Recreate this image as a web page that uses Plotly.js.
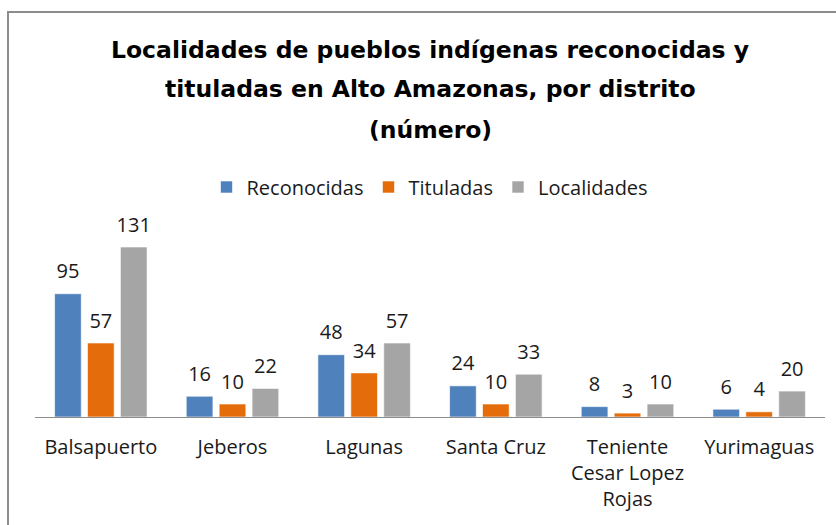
<!DOCTYPE html>
<html>
<head>
<meta charset="utf-8">
<script src="https://cdn.plot.ly/plotly-3.0.1.min.js"></script>
<style>html,body{margin:0;padding:0;background:#fff;}#chart{width:836px;height:525px;}</style>
</head>
<body>
<div id="chart"></div>
<script>
var distritos = ['Balsapuerto', 'Jeberos', 'Lagunas', 'Santa Cruz', 'Teniente<br>Cesar Lopez<br>Rojas', 'Yurimaguas'];
var reconocidas = [95, 16, 48, 24, 8, 6];
var tituladas = [57, 10, 34, 10, 3, 4];
var localidades = [131, 22, 57, 33, 10, 20];
var seriesNames = ['Reconocidas', 'Tituladas', 'Localidades'];
var seriesColors = ['#4F81BD', '#E46C0A', '#A5A5A5'];
var titleLines = ['Localidades de pueblos indígenas reconocidas y', 'tituladas en Alto Amazonas, por distrito', '(número)'];

var seriesValues = [reconocidas, tituladas, localidades];
var FONT = '"Open Sans", Lato, sans-serif';
var TFONT = '"DejaVu Sans", "Open Sans", sans-serif';
var traces = [];
seriesValues.forEach(function (vals, i) {
  traces.push({
    type: 'bar', x: distritos, y: vals, name: seriesNames[i],
    marker: {color: seriesColors[i], line: {color: 'rgba(255,255,255,0.6)', width: 1}},
    hoverinfo: 'skip'
  });
});
seriesValues.forEach(function (vals, i) {
  traces.push({
    type: 'scatter', mode: 'markers+text', x: distritos, y: vals,
    text: vals.map(String), textposition: 'top center',
    textfont: {family: FONT, size: 20, color: '#1a1a1a'},
    marker: {size: 15, opacity: 0, color: seriesColors[i]},
    showlegend: false, hoverinfo: 'skip', cliponaxis: false
  });
});

var plotTop = 215, plotBottom = 417, plotH = plotBottom - plotTop;
function py(pix) { return (plotBottom - pix) / plotH; }
var titleY = [50, 89, 130];
var annotations = titleLines.map(function (t, i) {
  return {text: '<b>' + t + '</b>', xref: 'paper', yref: 'paper', x: (430 - 35) / 790, y: py(titleY[i]),
    xanchor: 'center', yanchor: 'middle', showarrow: false,
    font: {family: TFONT, size: 23.5, color: '#000'}};
});

var layout = {
  width: 836, height: 525,
  margin: {l: 35, r: 11, t: plotTop, b: 525 - plotBottom},
  paper_bgcolor: '#fff', plot_bgcolor: '#fff',
  barmode: 'group', bargap: 0.25, bargroupgap: 0.19,
  scattermode: 'group', scattergap: 0.25,
  showlegend: true,
  legend: {orientation: 'h', x: 0.5, xanchor: 'center', y: py(187), yanchor: 'middle',
    font: {family: FONT, size: 20, color: '#1a1a1a'}, itemwidth: 30, traceorder: 'normal'},
  xaxis: {type: 'category', showline: true, linecolor: '#8c8c8c', linewidth: 1,
    ticks: '', showgrid: false, zeroline: false, ticklabelstandoff: 12,
    tickfont: {family: FONT, size: 20, color: '#1a1a1a'}, fixedrange: true},
  yaxis: {range: [0, plotH / (170 / 131)], visible: false, showgrid: false, zeroline: false, fixedrange: true},
  annotations: annotations,
  shapes: [{type: 'rect', xref: 'paper', yref: 'paper',
    x0: (8 - 35) / 790, x1: 1.2, y0: -2, y1: py(12),
    line: {color: '#8c8c8c', width: 2}, fillcolor: 'rgba(0,0,0,0)', layer: 'below'}]
};

Plotly.newPlot('chart', traces, layout, {displayModeBar: false, staticPlot: true});
</script>
</body>
</html>
